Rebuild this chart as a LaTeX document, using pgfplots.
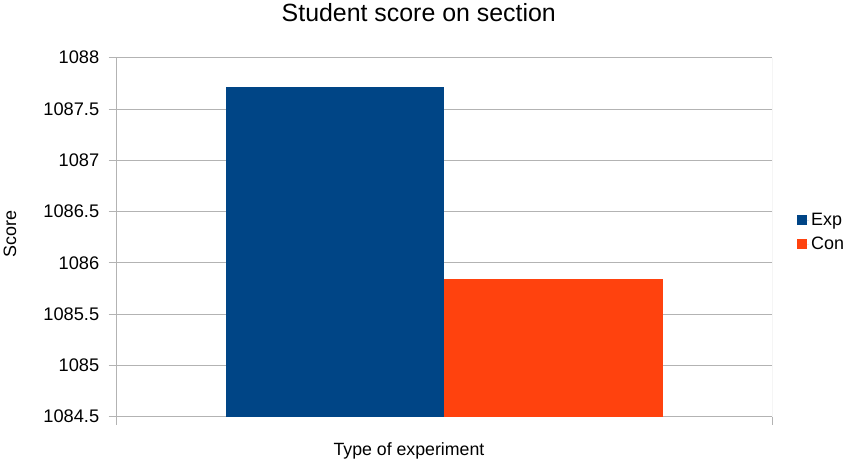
\documentclass[border=0pt]{standalone}
\usepackage{pgfplots}
\pgfplotsset{compat=1.18}
\usepackage{fontspec}
\setmainfont{Liberation Sans}
\definecolor{expc}{HTML}{004586}
\definecolor{conc}{HTML}{FF420E}
\definecolor{gridc}{HTML}{B3B3B3}
\begin{document}
\begin{tikzpicture}
\useasboundingbox (0,0) rectangle (851bp,466bp);
\begin{axis}[
  at={(116.7bp,49.3bp)}, anchor=south west,
  scale only axis,
  width=655.3bp, height=359bp,
  xmin=-0.5, xmax=0.5,
  ymin=1084.5, ymax=1088,
  ytick={1084.5,1085,1085.5,1086,1086.5,1087,1087.5,1088},
  xtick={-0.5,0.5}, xticklabels={},
  tick align=outside,
  major tick length=8bp,
  tick style={draw=gridc, line width=0.8pt},
  ymajorgrids,
  major grid style={draw=gridc, line width=0.8pt},
  axis line style={draw=gridc, line width=0.8pt},
  axis x line*=bottom, axis y line*=left,
  every outer x axis line/.append style={-}, every outer y axis line/.append style={-},
  /pgf/number format/.cd, fixed, 1000 sep={}, assume math mode=true, /pgfplots/.cd,
  yticklabel style={font=\fontsize{18.3}{20}\selectfont, anchor=east, xshift=-6bp},
  title={Student score on section},
  title style={font=\fontsize{25}{28}\selectfont, at={(axis description cs:0.461,1.083)}, anchor=base},
  xlabel={Type of experiment},
  xlabel style={font=\fontsize{17.8}{20}\selectfont, at={(axis description cs:0.446,-0.107)}, anchor=base},
  ylabel={Score},
  ylabel style={font=\fontsize{18}{20}\selectfont, at={(axis description cs:-0.163,0.51)}, anchor=center, rotate=0},
  legend style={draw=none, fill=none, at={(axis description cs:1.038,0.514)}, anchor=west,
    font=\fontsize{18}{20}\selectfont, row sep=6bp, inner sep=0pt},
  legend cell align=left,
  legend image code/.code={\fill[#1] (0bp,-5bp) rectangle (9.5bp,5bp); \path (0bp,0bp) -- (12bp,0bp);},
]
\draw[gridc, line width=0.8pt] (axis cs:0.5,1084.5) -- (axis cs:0.5,1088);
\addplot[ybar, bar width=0.3333, bar shift=0pt, fill=expc, draw=none] coordinates {(-0.16667,1087.71)};
\addlegendentry{Exp}
\addplot[ybar, bar width=0.3333, bar shift=0pt, fill=conc, draw=none] coordinates {(0.16667,1085.84)};
\addlegendentry{Con}
\end{axis}
\end{tikzpicture}
\end{document}
